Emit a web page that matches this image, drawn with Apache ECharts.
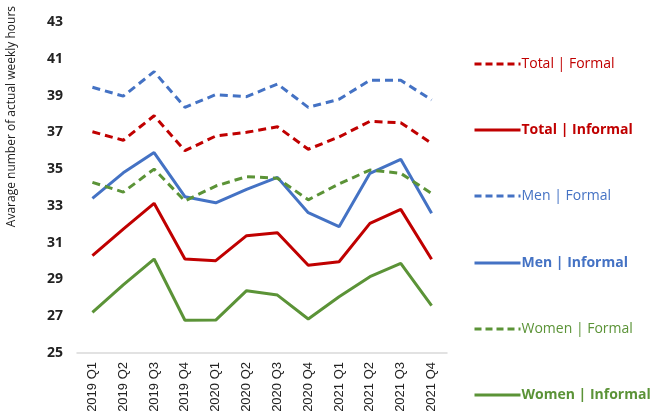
<!DOCTYPE html>
<html><head><meta charset="utf-8">
<script src="https://cdn.jsdelivr.net/npm/echarts@6/dist/echarts.min.js"></script>
<style>html,body{margin:0;padding:0;background:#fff}#c{width:654px;height:420px}</style>
</head><body><div id="c"></div>
<script>
const categories = ['2019 Q1','2019 Q2','2019 Q3','2019 Q4','2020 Q1','2020 Q2','2020 Q3','2020 Q4','2021 Q1','2021 Q2','2021 Q3','2021 Q4'];
const totalFormal   = [37.03,36.57,37.9,36.0,36.8,37.0,37.3,36.08,36.75,37.6,37.52,36.4];
const totalInformal = [30.29,31.74,33.14,30.11,30.02,31.38,31.54,29.77,29.96,32.05,32.81,30.1];
const menFormal     = [39.45,38.97,40.3,38.36,39.05,38.94,39.63,38.36,38.8,39.83,39.83,38.76];
const menInformal   = [33.41,34.8,35.9,33.5,33.17,33.9,34.55,32.63,31.87,34.77,35.53,32.6];
const womenFormal   = [34.28,33.75,35.0,33.27,34.08,34.59,34.5,33.33,34.2,34.95,34.77,33.68];
const womenInformal = [27.21,28.7,30.11,26.78,26.79,28.39,28.15,26.85,28.06,29.15,29.88,27.57];
const yTicks = [25,27,29,31,33,35,37,39,41,43];
const axisTitle = 'Avarage number of actual weekly hours';

const RED='#C00000', BLUE='#4472C4', GREEN='#5B9337';
const seriesDefs = [
  {name:'Total | Formal', data: totalFormal, color: RED, dashed: true},
  {name:'Total | Informal', data: totalInformal, color: RED, dashed: false},
  {name:'Men | Formal', data: menFormal, color: BLUE, dashed: true},
  {name:'Men | Informal', data: menInformal, color: BLUE, dashed: false},
  {name:'Women | Formal', data: womenFormal, color: GREEN, dashed: true},
  {name:'Women | Informal', data: womenInformal, color: GREEN, dashed: false}
];
const legendTops = [52,118,184,251,317,383];
const chart = echarts.init(document.getElementById('c'), null, {renderer:'canvas'});
chart.setOption({
  animation:false,
  textStyle:{fontFamily:'"Open Sans", "Noto Sans", sans-serif'},
  grid:{left:77,right:207,top:22,bottom:67},
  xAxis:{type:'category',data:categories,boundaryGap:true,
    axisLine:{lineStyle:{color:'#d9d9d9',width:1.5}},axisTick:{show:false},
    axisLabel:{rotate:90,color:'#222',fontSize:13,margin:9,fontFamily:'"Liberation Sans", Arial, sans-serif'}},
  yAxis:{type:'value',min:yTicks[0],max:yTicks[yTicks.length-1],interval:2,
    splitLine:{show:false},axisLine:{show:false},axisTick:{show:false},
    axisLabel:{color:'#222',fontSize:14,fontWeight:'bold',margin:14,fontFamily:'"Open Sans", sans-serif'}},
  legend: seriesDefs.map((s,i)=>({
    data:[s.name], left:468, top:legendTops[i], orient:'vertical',
    itemWidth:46, itemHeight:14, itemGap:0,
    itemStyle:{opacity:0},
    lineStyle:{width:3,type:s.dashed?[7,4]:'solid'},
    textStyle:{color:s.color,fontSize:14,fontWeight:s.dashed?'normal':'bold',padding:[0,0,0,-4],fontFamily:'"Open Sans", sans-serif'}
  })),
  graphic:[{type:'text',left:6,top:6,rotation:Math.PI/2,
    style:{text:axisTitle,fill:'#222',font:'12px "Open Sans", sans-serif'}}],
  series: seriesDefs.map(s=>({
    name:s.name,type:'line',data:s.data,symbol:'none',
    color:s.color,
    lineStyle:{color:s.color,width:3,type:s.dashed?[8,5]:'solid'}
  }))
});
</script></body></html>
